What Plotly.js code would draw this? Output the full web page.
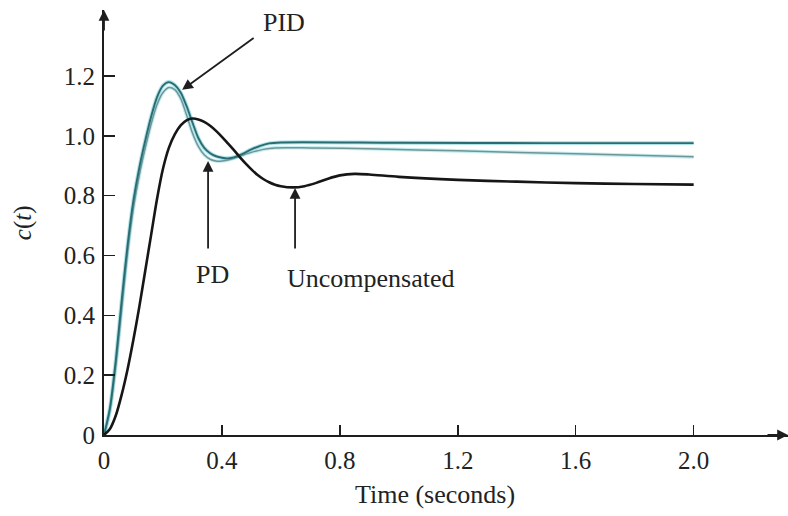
<!DOCTYPE html>
<html>
<head>
<meta charset="utf-8">
<script src="https://cdn.plot.ly/plotly-3.0.1.min.js"></script>
<style>html,body{margin:0;padding:0;background:#fff;}#chart{width:788px;height:516px;}</style>
</head>
<body>
<div id="chart"></div>
<script>
// Time samples (seconds) and responses
const tUnc = [0,0.02,0.04,0.06,0.08,0.10,0.12,0.14,0.16,0.18,0.20,0.22,0.24,0.26,0.28,0.30,0.32,0.34,0.36,0.38,0.40,0.42,0.44,0.46,0.48,0.50,0.52,0.54,0.56,0.58,0.60,0.64,0.68,0.72,0.76,0.80,0.85,0.90,1.0,1.2,1.4,1.6,1.8,2.0];
const cUnc = [0,0.02,0.065,0.135,0.22,0.32,0.43,0.55,0.67,0.79,0.89,0.96,1.005,1.035,1.052,1.058,1.055,1.047,1.034,1.017,0.997,0.975,0.953,0.93,0.908,0.888,0.87,0.856,0.845,0.837,0.832,0.828,0.832,0.843,0.857,0.868,0.873,0.871,0.863,0.853,0.847,0.842,0.839,0.837];

const tPID = [0,0.02,0.04,0.06,0.08,0.10,0.12,0.14,0.16,0.18,0.20,0.22,0.24,0.26,0.28,0.30,0.32,0.34,0.36,0.38,0.40,0.42,0.44,0.47,0.50,0.53,0.56,0.60,1.0,1.5,2.0];
const cPID = [0,0.09,0.25,0.45,0.635,0.785,0.895,0.985,1.065,1.13,1.168,1.18,1.17,1.145,1.10,1.045,0.993,0.96,0.942,0.932,0.927,0.925,0.928,0.94,0.955,0.967,0.975,0.978,0.977,0.976,0.976];

const tPD = [0,0.02,0.04,0.06,0.08,0.10,0.12,0.14,0.16,0.18,0.20,0.22,0.24,0.26,0.28,0.30,0.32,0.34,0.36,0.38,0.40,0.43,0.46,0.50,0.54,0.58,0.70,0.90,1.2,1.6,2.0];
const cPD = [0,0.08,0.23,0.42,0.61,0.76,0.87,0.96,1.04,1.105,1.145,1.162,1.155,1.125,1.07,1.01,0.965,0.937,0.922,0.916,0.916,0.922,0.932,0.945,0.955,0.96,0.96,0.957,0.95,0.94,0.93];

const xTickVals = [0,0.4,0.8,1.2,1.6,2.0];
const xTickText = ["0","0.4","0.8","1.2","1.6","2.0"];
const yTickVals = [0,0.2,0.4,0.6,0.8,1.0,1.2];
const yTickText = ["0","0.2","0.4","0.6","0.8","1.0","1.2"];

const FONT = "Liberation Serif, Times New Roman, serif";
const AX = "#1e1e1e";

const traces = [
  {x:tPD, y:cPD, mode:"lines", line:{color:"rgba(150,220,226,0.55)", width:3.6, shape:"spline", smoothing:0.8}, hoverinfo:"skip"},
  {x:tPID, y:cPID, mode:"lines", line:{color:"rgba(120,208,218,0.6)", width:4, shape:"spline", smoothing:0.8}, hoverinfo:"skip"},
  {x:tPD, y:cPD, mode:"lines", name:"PD", line:{color:"#6f9597", width:1.5, shape:"spline", smoothing:0.8}},
  {x:tPID, y:cPID, mode:"lines", name:"PID", line:{color:"#2b6c72", width:1.9, shape:"spline", smoothing:0.8}},
  {x:tUnc, y:cUnc, mode:"lines", name:"Uncompensated", line:{color:"#161616", width:2.6, shape:"spline", smoothing:0.8}}
];

const arrowBase = {showarrow:true, text:"", arrowhead:2, arrowsize:1.2, arrowwidth:1.8, arrowcolor:AX, axref:"pixel", ayref:"pixel"};

const layout = {
  width:788, height:516,
  margin:{l:104, r:0, t:10, b:81},
  paper_bgcolor:"#ffffff", plot_bgcolor:"#ffffff",
  showlegend:false,
  font:{family:FONT, size:25, color:"#222"},
  xaxis:{range:[0,2.32], showgrid:false, zeroline:false, showline:true, linecolor:AX, linewidth:2,
         ticks:"inside", ticklen:10, tickwidth:1.5, tickcolor:AX,
         tickvals:xTickVals, ticktext:xTickText, tickfont:{family:FONT, size:25, color:"#222"}, ticklabelstandoff:2},
  yaxis:{range:[0,1.421], showgrid:false, zeroline:false, showline:true, linecolor:AX, linewidth:2,
         ticks:"inside", ticklen:11, tickwidth:1.5, tickcolor:AX,
         tickvals:yTickVals, ticktext:yTickText, tickfont:{family:FONT, size:25, color:"#222"}, ticklabelstandoff:2},
  annotations:[
    Object.assign({}, arrowBase, {x:0, y:1.421, xref:"x", yref:"y", ax:0, ay:22}),
    Object.assign({}, arrowBase, {x:2.32, y:0, xref:"x", yref:"y", ax:-22, ay:0}),
    Object.assign({}, arrowBase, {x:0.265, y:1.154, xref:"x", yref:"y", ax:73, ay:-53}),
    Object.assign({}, arrowBase, {x:0.353, y:0.916, xref:"x", yref:"y", ax:0, ay:89}),
    Object.assign({}, arrowBase, {x:0.648, y:0.826, xref:"x", yref:"y", ax:0, ay:62}),
    {x:0.61, y:1.38, xref:"x", yref:"y", text:"PID", showarrow:false, xanchor:"center", yanchor:"middle", font:{family:FONT, size:26, color:"#222"}},
    {x:0.367, y:0.535, xref:"x", yref:"y", text:"PD", showarrow:false, xanchor:"center", yanchor:"middle", font:{family:FONT, size:26, color:"#222"}},
    {x:0.907, y:0.522, xref:"x", yref:"y", text:"Uncompensated", showarrow:false, xanchor:"center", yanchor:"middle", font:{family:FONT, size:26, color:"#222"}},
    {x:0.484, y:-0.141, xref:"paper", yref:"paper", text:"Time (seconds)", showarrow:false, xanchor:"center", yanchor:"middle", font:{family:FONT, size:26, color:"#222"}},
    {x:-0.118, y:0.499, xref:"paper", yref:"paper", text:"<i>c</i>(<i>t</i>)", textangle:-90, showarrow:false, xanchor:"center", yanchor:"middle", font:{family:FONT, size:25, color:"#222"}}
  ]
};

Plotly.newPlot("chart", traces, layout, {staticPlot:true, displayModeBar:false});
</script>
</body>
</html>
